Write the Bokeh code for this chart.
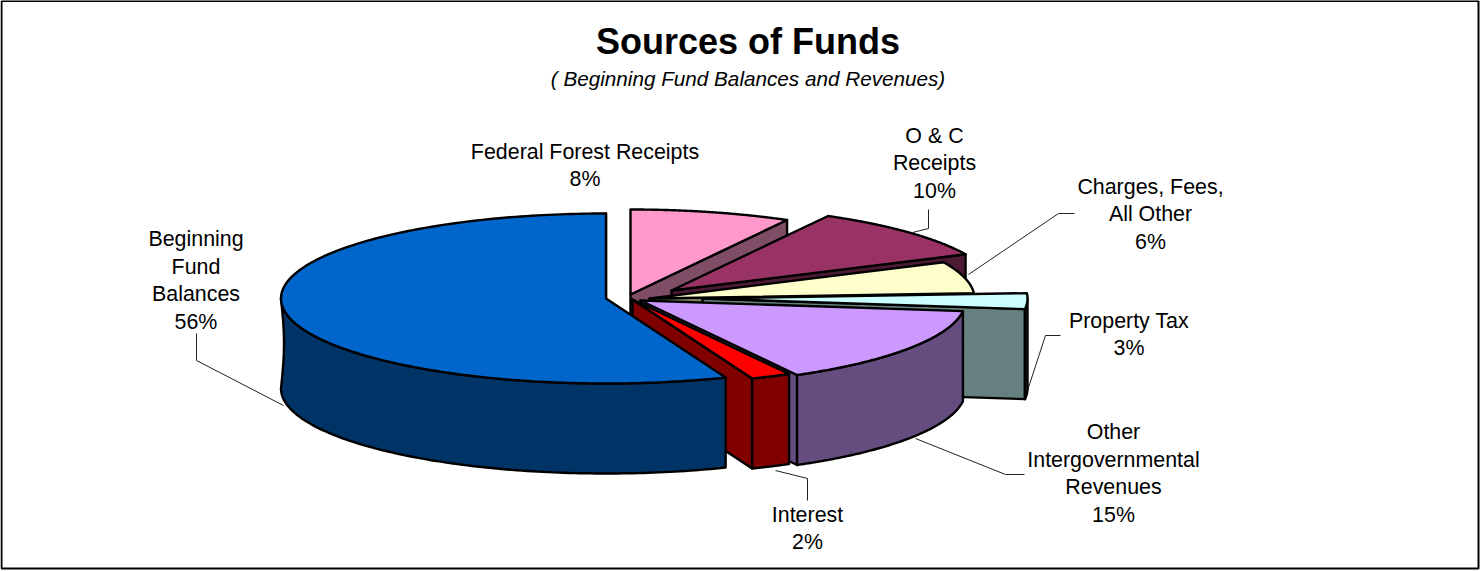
import numpy as np
from bokeh.core.properties import value
from bokeh.embed import file_html
from bokeh.models import Range1d
from bokeh.plotting import figure
from bokeh.resources import INLINE

# Budget shares, clockwise from twelve o'clock
categories = ["Federal Forest Receipts", "O & C Receipts", "Charges, Fees, All Other", "Property Tax",
              "Other Intergovernmental Revenues", "Interest", "Beginning Fund Balances"]
shares = [8, 10, 6, 3, 15, 2, 56]
label_text = ["Federal Forest Receipts\n8%", "O & C\nReceipts\n10%", "Charges, Fees,\nAll Other\n6%",
              "Property Tax\n3%", "Other\nIntergovernmental\nRevenues\n15%", "Interest\n2%",
              "Beginning\nFund\nBalances\n56%"]

# Slice styling and layout, in page pixels
top_colors = ["#FF99CC", "#993366", "#FFFFCC", "#CCFFFF", "#CC99FF", "#FF0000", "#0066CC"]
side_colors = ["#804D66", "#4D1A33", "#808066", "#668080", "#664D80", "#800000", "#003366"]
hubs = [(630, 294), (671, 290), (649, 298), (702, 298), (640, 300), (632, 299), (605.5, 298)]
label_pos = [(584.5, 165), (934, 163), (1150, 214), (1128.5, 334), (1113, 473), (807, 528), (195.5, 280)]
leaders = [
    ([196, 196, 283], [333, 360, 405]),
    ([928, 928, 912], [209, 228, 232]),
    ([968, 1058, 1074], [274, 213, 213]),
    ([1060, 1045, 1027], [335, 335, 390]),
    ([915, 1005, 1024], [438, 474, 474]),
    ([775, 807, 807], [470, 478, 500]),
]
RX, RY, DEPTH = 325, 85, 90
WAIST = 3  # inward pinch of the rim's silhouette at the far left

WIDTH, HEIGHT = 1480, 571
p = figure(width=WIDTH, height=HEIGHT, output_backend="svg", toolbar_location=None,
           x_range=Range1d(0, WIDTH), y_range=Range1d(HEIGHT, 0),
           min_border=0, outline_line_color=None, background_fill_color="white")
p.axis.visible = False
p.grid.visible = False


def rim(hub, deg):
    t = np.radians(deg)
    return hub[0] + RX * np.sin(t), hub[1] - RY * np.cos(t)


def face(xs, ys, color):
    p.patch(xs, ys, fill_color=color, line_color="black", line_width=2.4, line_join="round")


# Frame around the whole chart
p.line([1, 1478, 1478, 1, 1], [0.5, 0.5, 568, 568, 0.5], line_color="black", line_width=2)

# Leader lines sit under the slices so they end at the pie's edge
for xs, ys in leaders:
    p.line(xs, ys, line_color="#222222", line_width=1)

# Slices are painted back to front: radial wall, front rim, then the top surface
edges = np.cumsum([0] + shares) * 3.6
for i, hub in enumerate(hubs):
    start, end = edges[i], edges[i + 1]

    ex, ey = rim(hub, end)
    face([hub[0], ex, ex, hub[0]], [hub[1], ey, ey + DEPTH, hub[1] + DEPTH], side_colors[i])

    lo, hi = max(start, 90), min(end, 270)
    if hi > lo:
        ax, ay = rim(hub, np.linspace(lo, hi, 120))
        if hi == 270:
            s = np.linspace(0, 1, 24)
            rim_x = np.r_[ax, ax[-1] + WAIST * np.sin(np.pi * s), ax[::-1]]
            rim_y = np.r_[ay, ay[-1] + DEPTH * s, ay[::-1] + DEPTH]
        else:
            rim_x, rim_y = np.r_[ax, ax[::-1]], np.r_[ay, ay[::-1] + DEPTH]
        face(rim_x, rim_y, side_colors[i])

    tx, ty = rim(hub, np.linspace(start, end, 200))
    face(np.r_[hub[0], tx], np.r_[hub[1], ty], top_colors[i])

p.text([x for x, _ in label_pos], [y for _, y in label_pos], text=label_text,
       text_font=value("Liberation Sans"), text_font_size="21.4px", text_color="black",
       text_align="center", text_baseline="middle", text_line_height=1.16)
p.text([747.5], [41], text=["Sources of Funds"], text_font=value("Liberation Sans"),
       text_font_style="bold", text_font_size="36px", text_color="black",
       text_align="center", text_baseline="middle")
p.text([747.5], [78], text=["( Beginning Fund Balances and Revenues)"], text_font=value("Liberation Sans"),
       text_font_style="italic", text_font_size="20.7px", text_color="black",
       text_align="center", text_baseline="middle")

open("out.html", "w").write(file_html(p, INLINE))
